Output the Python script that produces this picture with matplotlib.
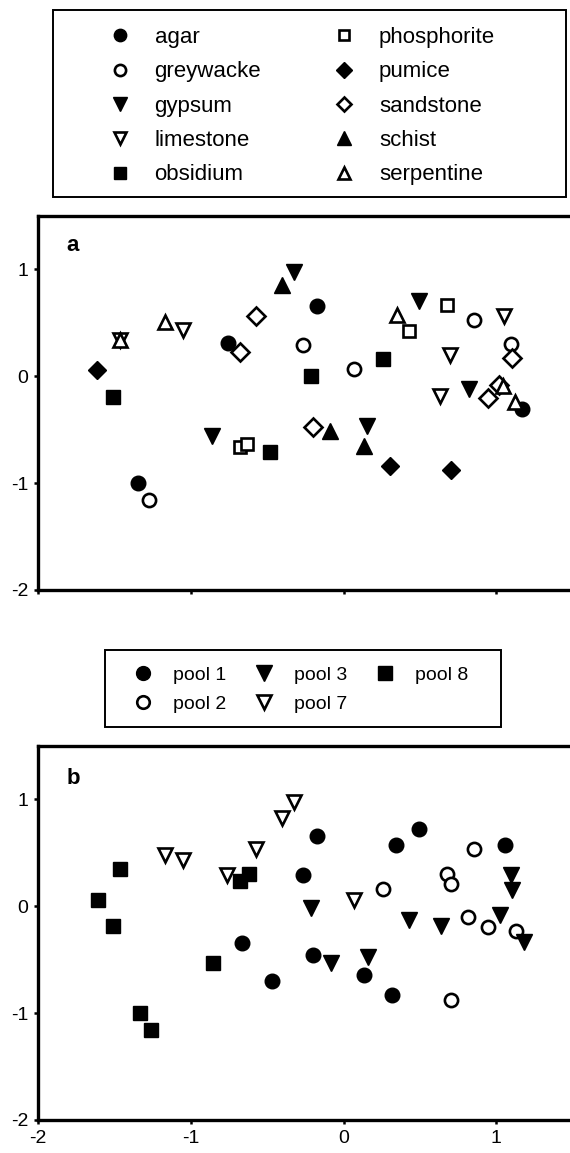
import matplotlib
matplotlib.use('Agg')
import matplotlib.pyplot as plt
from matplotlib.lines import Line2D
from matplotlib.patches import Rectangle

plt.rcParams['font.family'] = ['Liberation Sans', 'DejaVu Sans']

# ---------------- Panel a: substrate ----------------
categories_a = ['agar', 'greywacke', 'gypsum', 'limestone', 'obsidium',
                'phosphorite', 'pumice', 'sandstone', 'schist', 'serpentine']
agar_x = [-0.76, -0.175, -1.345, 1.17]
agar_y = [0.31, 0.66, -1.00, -0.31]
greywacke_x = [-0.265, 0.065, 0.855, 1.096, -1.277]
greywacke_y = [0.29, 0.07, 0.53, 0.30, -1.16]
gypsum_x = [-0.323, 0.495, 0.823, -0.864, 0.15]
gypsum_y = [0.98, 0.70, -0.12, -0.556, -0.463]
limestone_x = [-1.465, -1.054, 0.696, 0.633, 1.052]
limestone_y = [0.34, 0.43, 0.20, -0.18, 0.56]
obsidium_x = [-1.513, -0.214, 0.255, -0.482]
obsidium_y = [-0.19, 0.00, 0.16, -0.71]
phosphorite_x = [0.426, 0.674, -0.68, -0.632]
phosphorite_y = [0.42, 0.67, -0.665, -0.634]
pumice_x = [-1.616, 0.305, 0.70]
pumice_y = [0.056, -0.835, -0.88]
sandstone_x = [-0.677, -0.574, 1.10, 0.943, 1.02, -0.203]
sandstone_y = [0.23, 0.56, 0.17, -0.20, -0.08, -0.478]
schist_x = [-0.404, -0.091, 0.131]
schist_y = [0.85, -0.51, -0.65]
serpentine_x = [-1.465, -1.168, 0.347, 1.04, 1.12]
serpentine_y = [0.34, 0.51, 0.57, -0.09, -0.24]

# ---------------- Panel b: pools ----------------
categories_b = ['pool 1', 'pool 2', 'pool 3', 'pool 7', 'pool 8']
pool1_x = [-0.175, -0.265, 0.342, 0.495, 1.056, -0.666, -0.472, -0.199, 0.135, 0.316]
pool1_y = [0.66, 0.29, 0.57, 0.72, 0.57, -0.34, -0.70, -0.46, -0.645, -0.83]
pool2_x = [0.255, 0.674, 0.70, 0.855, 0.816, 0.947, 1.128, 0.703]
pool2_y = [0.16, 0.30, 0.21, 0.54, -0.10, -0.19, -0.235, -0.88]
pool3_x = [-0.214, 0.43, 0.637, 1.096, 1.10, 1.026, 1.183, -0.083, 0.157]
pool3_y = [-0.02, -0.13, -0.18, 0.29, 0.15, -0.085, -0.33, -0.53, -0.47]
pool7_x = [-1.168, -1.054, -0.764, -0.574, -0.404, -0.323, 0.065]
pool7_y = [0.48, 0.43, 0.29, 0.54, 0.83, 0.98, 0.056]
pool8_x = [-1.611, -1.513, -1.465, -0.677, -0.618, -0.854, -1.332, -1.262]
pool8_y = [0.056, -0.18, 0.35, 0.24, 0.30, -0.53, -1.00, -1.16]

x_ticks = [-2, -1, 0, 1]
y_ticks = [-2, -1, 0, 1]

W, H = 570, 1153
fig = plt.figure(figsize=(W / 100, H / 100), dpi=100)

def px_axes(left, top, right, bottom):
    return fig.add_axes([left / W, 1 - bottom / H, (right - left) / W, (bottom - top) / H])

ax_right = 38.3 + 3.5 * 152.7
ax_a = px_axes(38.3, 216, ax_right, 590)
ax_b = px_axes(38.3, 746, ax_right, 1120)

styles = {
    'filled_o': dict(marker='o', ms=10.5, mfc='black', mec='black', mew=1.0),
    'open_o': dict(marker='o', ms=9.5, mfc='white', mec='black', mew=1.9),
    'filled_v': dict(marker='v', ms=11.5, mfc='black', mec='black', mew=1.0),
    'open_v': dict(marker='v', ms=10.5, mfc='white', mec='black', mew=1.9),
    'filled_s': dict(marker='s', ms=10.0, mfc='black', mec='black', mew=1.0),
    'open_s': dict(marker='s', ms=9.0, mfc='white', mec='black', mew=1.9),
    'filled_D': dict(marker='D', ms=9.5, mfc='black', mec='black', mew=1.0),
    'open_D': dict(marker='D', ms=8.8, mfc='white', mec='black', mew=1.9),
    'filled_^': dict(marker='^', ms=11.5, mfc='black', mec='black', mew=1.0),
    'open_^': dict(marker='^', ms=10.5, mfc='white', mec='black', mew=1.9),
}

series_a = [
    (agar_x, agar_y, 'filled_o'), (greywacke_x, greywacke_y, 'open_o'),
    (gypsum_x, gypsum_y, 'filled_v'), (limestone_x, limestone_y, 'open_v'),
    (obsidium_x, obsidium_y, 'filled_s'), (phosphorite_x, phosphorite_y, 'open_s'),
    (pumice_x, pumice_y, 'filled_D'), (sandstone_x, sandstone_y, 'open_D'),
    (schist_x, schist_y, 'filled_^'), (serpentine_x, serpentine_y, 'open_^'),
]
series_b = [
    (pool1_x, pool1_y, 'filled_o'), (pool2_x, pool2_y, 'open_o'),
    (pool3_x, pool3_y, 'filled_v'), (pool7_x, pool7_y, 'open_v'),
    (pool8_x, pool8_y, 'filled_s'),
]

for ax, series in ((ax_a, series_a), (ax_b, series_b)):
    for xs, ys, st in series:
        ax.plot(xs, ys, ls='none', clip_on=False, **styles[st])
    ax.set_xlim(-2, 1.5)
    ax.set_ylim(-2, 1.5)
    ax.set_xticks(x_ticks)
    ax.set_yticks(y_ticks)
    ax.set_yticklabels([str(v) for v in y_ticks])
    for s in ('left', 'bottom', 'top'):
        ax.spines[s].set_linewidth(2.4)
    ax.spines['right'].set_visible(False)
    ax.tick_params(direction='out', length=3, width=1.8, labelsize=14, pad=4)
    ax.tick_params(axis='y', pad=4)

ax_a.tick_params(axis='x', labelbottom=False)
ax_b.set_xticklabels([str(v) for v in x_ticks])

ax_a.text(0.064, 0.922, 'a', transform=ax_a.transAxes, fontsize=16,
          fontweight='bold', ha='center', va='center')
ax_b.text(0.066, 0.914, 'b', transform=ax_b.transAxes, fontsize=16,
          fontweight='bold', ha='center', va='center')

def handle(st, scale):
    d = dict(styles[st])
    d['ms'] = d['ms'] * scale
    return Line2D([], [], ls='none', **d)

# legend a
hand_a = [handle(st, 0.85) for _, _, st in series_a]
leg_a = fig.legend(hand_a, categories_a, ncol=2, loc='upper left',
                   bbox_to_anchor=(109 / W, 1 - 27.0 / H, (495 - 109) / W, 0),
                   mode='expand', frameon=False, fontsize=16, handlelength=1.0,
                   handletextpad=1.05, labelspacing=0.60, borderpad=0,
                   borderaxespad=0, numpoints=1)
fig.add_artist(Rectangle((52.7 / W, 1 - 196.7 / H), (565.5 - 52.7) / W, (196.7 - 10) / H,
                         transform=fig.transFigure, fill=False, lw=1.4, ec='black'))

# legend b
hand_b = [handle(st, 0.95) for _, _, st in series_b]
leg_b = fig.legend(hand_b, categories_b, ncol=3, loc='upper left',
                   bbox_to_anchor=(133.7 / W, 1 - 666 / H), frameon=False,
                   fontsize=14, handlelength=1.0, handletextpad=1.03,
                   labelspacing=0.62, columnspacing=1.45, borderpad=0,
                   borderaxespad=0, numpoints=1)
fig.add_artist(Rectangle((105 / W, 1 - 727 / H), (500.7 - 105) / W, (727 - 650) / H,
                         transform=fig.transFigure, fill=False, lw=1.4, ec='black'))

fig.savefig('out.png', dpi=100)
